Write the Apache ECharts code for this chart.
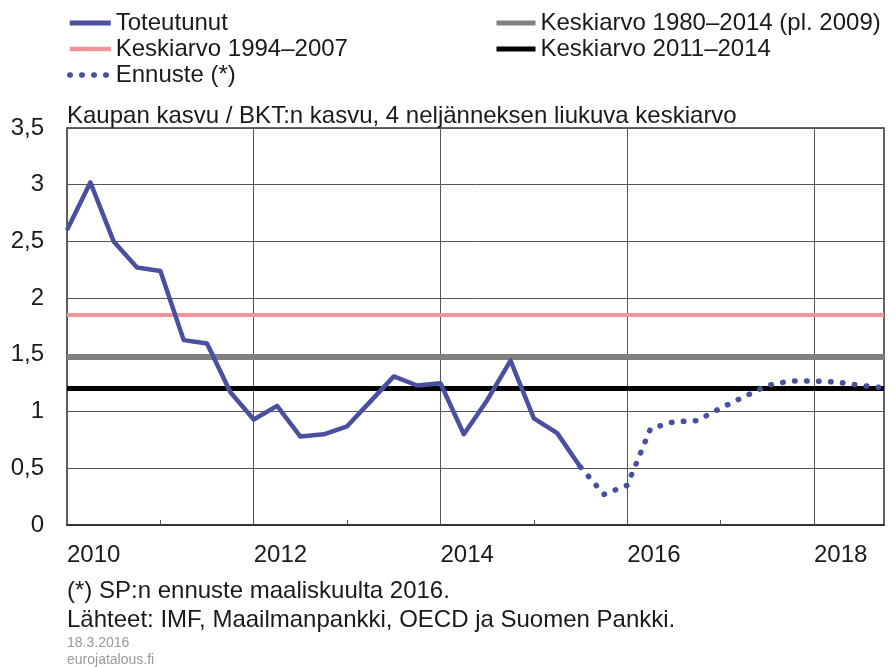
<!DOCTYPE html>
<html>
<head>
<meta charset="utf-8">
<script src="https://cdn.jsdelivr.net/npm/echarts@6/dist/echarts.min.js"></script>
<style>
  html, body { margin: 0; padding: 0; background: #fff; }
  #main { width: 896px; height: 667px; }
</style>
</head>
<body>
<div id="main"></div>
<script>
    var quarters = [
        '2010Q1', '2010Q2', '2010Q3', '2010Q4', '2011Q1', '2011Q2', '2011Q3', '2011Q4',
        '2012Q1', '2012Q2', '2012Q3', '2012Q4', '2013Q1', '2013Q2', '2013Q3', '2013Q4',
        '2014Q1', '2014Q2', '2014Q3', '2014Q4', '2015Q1', '2015Q2', '2015Q3', '2015Q4',
        '2016Q1', '2016Q2', '2016Q3', '2016Q4', '2017Q1', '2017Q2', '2017Q3', '2017Q4',
        '2018Q1', '2018Q2', '2018Q3', '2018Q4'
    ];
    // toteutunut 2010Q1..2015Q3, ennuste 2015Q3..2018Q4
    var toteutunut = [2.60, 3.02, 2.50, 2.27, 2.24, 1.63, 1.60, 1.17, 0.93, 1.05, 0.78, 0.80,
        0.87, 1.09, 1.31, 1.23, 1.25, 0.80, 1.10, 1.45, 0.94, 0.81, 0.51];
    var ennuste = [0.51, 0.27, 0.35, 0.85, 0.91, 0.92, 1.03, 1.13, 1.23, 1.27, 1.27, 1.26, 1.23, 1.21];
    var ennusteStart = 22;
    var keskiarvo9407 = 1.85;
    var keskiarvo8014 = 1.48;
    var keskiarvo1114 = 1.21;
    var yTicks = [0, 0.5, 1, 1.5, 2, 2.5, 3, 3.5];

    var font = "'Liberation Sans', Arial, sans-serif";
    var blue = '#4a4f9f';
    var dots = [0.5, 11.5];

    var toteutunutData = quarters.map(function (q, i) {
        return i < toteutunut.length ? toteutunut[i] : null;
    });
    var ennusteData = quarters.map(function (q, i) {
        return i >= ennusteStart ? ennuste[i - ennusteStart] : null;
    });

    function refLine(name, value, color, width) {
        return {
            name: name,
            type: 'line',
            data: [],
            symbol: 'none',
            lineStyle: { color: color, width: width },
            itemStyle: { color: color },
            z: 1,
            markLine: {
                silent: true,
                symbol: 'none',
                label: { show: false },
                lineStyle: { color: color, width: width, type: 'solid' },
                data: [{ yAxis: value }]
            }
        };
    }

    var legendText = { fontFamily: font, fontSize: 24, color: '#1a1a1a', lineHeight: 24 };

    var myChart = echarts.init(document.getElementById('main'));
    var option = {
        animation: false,
        title: {
            text: 'Kaupan kasvu / BKT:n kasvu, 4 neljänneksen liukuva keskiarvo',
            left: 67,
            top: 104,
            padding: 0,
            textStyle: { fontFamily: font, fontSize: 24, fontWeight: 'normal', color: '#1a1a1a', lineHeight: 24 }
        },
        legend: [{
            orient: 'vertical',
            left: 67,
            top: 11,
            padding: 0,
            itemWidth: 41,
            itemHeight: 6,
            itemGap: 2,
            itemStyle: { opacity: 0 },
            lineStyle: { width: 5 },
            textStyle: legendText,
            data: [
                { name: 'Toteutunut' },
                { name: 'Keskiarvo 1994–2007', lineStyle: { width: 4.5 } },
                { name: 'Ennuste (*)', lineStyle: { width: 5.5, type: dots, cap: 'round' } }
            ]
        }, {
            orient: 'vertical',
            left: 494,
            top: 11,
            padding: 0,
            itemWidth: 39,
            itemHeight: 6,
            itemGap: 2,
            itemStyle: { opacity: 0 },
            lineStyle: { width: 5 },
            textStyle: legendText,
            data: ['Keskiarvo 1980–2014 (pl. 2009)', 'Keskiarvo 2011–2014']
        }],
        grid: {
            left: 67,
            right: 12,
            top: 128,
            bottom: 142,
            show: true,
            borderColor: '#333',
            borderWidth: 1.5
        },
        xAxis: {
            type: 'category',
            data: quarters,
            boundaryGap: false,
            axisLine: { lineStyle: { color: '#333', width: 2 } },
            axisTick: { inside: true, length: 5, interval: 3, lineStyle: { color: '#555' } },
            splitLine: { show: true, interval: 7, lineStyle: { color: '#555', width: 1 } },
            axisLabel: {
                interval: 7,
                align: 'left',
                margin: 18,
                fontFamily: font,
                fontSize: 24,
                color: '#1a1a1a',
                formatter: function (v) { return v.slice(0, 4); }
            }
        },
        yAxis: {
            type: 'value',
            min: yTicks[0],
            max: yTicks[yTicks.length - 1],
            interval: 0.5,
            axisLine: { show: false },
            axisTick: { show: false },
            splitLine: { lineStyle: { color: '#555', width: 1 } },
            axisLabel: {
                margin: 23,
                fontFamily: font,
                fontSize: 24,
                color: '#1a1a1a',
                formatter: function (v) { return String(v).replace('.', ','); }
            }
        },
        series: [
            refLine('Keskiarvo 1994–2007', keskiarvo9407, '#f0939a', 4),
            refLine('Keskiarvo 1980–2014 (pl. 2009)', keskiarvo8014, '#808080', 6),
            refLine('Keskiarvo 2011–2014', keskiarvo1114, '#000000', 5),
            {
                name: 'Toteutunut',
                type: 'line',
                data: toteutunutData,
                symbol: 'none',
                z: 5,
                lineStyle: { color: blue, width: 4.5, join: 'round' },
                itemStyle: { color: blue }
            },
            {
                name: 'Ennuste (*)',
                type: 'line',
                data: ennusteData,
                symbol: 'none',
                z: 5,
                lineStyle: { color: blue, width: 5.5, type: dots, cap: 'round' },
                itemStyle: { color: blue }
            }
        ],
        graphic: [
            { type: 'text', left: 67, top: 579, style: { text: '(*) SP:n ennuste maaliskuulta 2016.', font: '24px ' + font, fill: '#1a1a1a' } },
            { type: 'text', left: 67, top: 608, style: { text: 'Lähteet: IMF, Maailmanpankki, OECD ja Suomen Pankki.', font: '24px ' + font, fill: '#1a1a1a' } },
            { type: 'text', left: 67, top: 636, style: { text: '18.3.2016', font: '14px ' + font, fill: '#9a9a9a' } },
            { type: 'text', left: 67, top: 653, style: { text: 'eurojatalous.fi', font: '14px ' + font, fill: '#9a9a9a' } }
        ]
    };
    myChart.setOption(option);
</script>
</body>
</html>
